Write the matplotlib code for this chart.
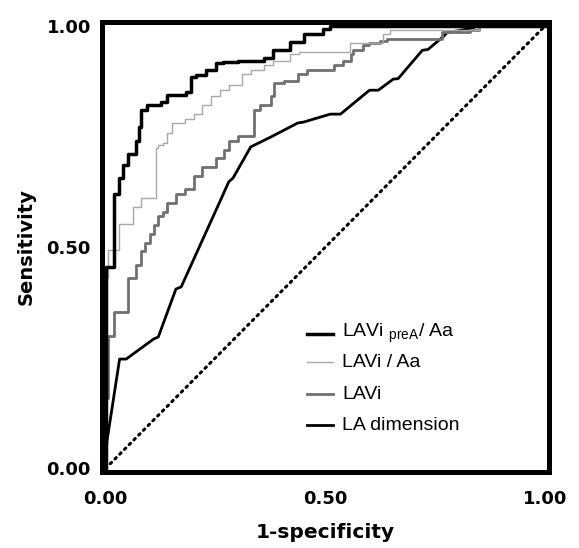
import matplotlib
matplotlib.use("Agg")
import matplotlib.pyplot as plt

# ---- data ----
prea_fpr = [0, 0, 0.02, 0.03, 0.04, 0.052, 0.07, 0.075, 0.08, 0.095, 0.127, 0.14, 0.183, 0.195,
            0.206, 0.228, 0.25, 0.267, 0.30, 0.36, 0.38, 0.42, 0.45, 0.495, 0.51, 1.0]
prea_tpr = [0, 0.455, 0.62, 0.656, 0.685, 0.71, 0.74, 0.77, 0.81, 0.82, 0.827, 0.843, 0.85, 0.883,
            0.888, 0.90, 0.915, 0.917, 0.92, 0.926, 0.944, 0.962, 0.982, 0.993, 1.0, 1.0]

laviaa_fpr = [0, 0, 0.005, 0.03, 0.063, 0.08, 0.115, 0.12, 0.13, 0.14, 0.15, 0.18, 0.20, 0.22,
              0.24, 0.26, 0.28, 0.31, 0.33, 0.36, 0.38, 0.42, 0.44, 0.556, 0.63, 0.647, 0.85, 1.0]
laviaa_tpr = [0, 0.43, 0.494, 0.551, 0.59, 0.611, 0.724, 0.73, 0.735, 0.757, 0.78, 0.79, 0.80, 0.82,
              0.84, 0.855, 0.865, 0.89, 0.90, 0.91, 0.92, 0.935, 0.94, 0.96, 0.98, 0.99, 1.0, 1.0]

lavi_fpr = [0, 0, 0.005, 0.02, 0.052, 0.07, 0.08, 0.09, 0.10, 0.11, 0.12, 0.13, 0.14, 0.16, 0.18,
            0.20, 0.22, 0.25, 0.27, 0.28, 0.30, 0.337, 0.35, 0.376, 0.382, 0.405, 0.437, 0.459,
            0.52, 0.54, 0.557, 0.563, 0.586, 0.60, 0.624, 0.64, 0.765, 0.828, 0.85, 1.0]
lavi_tpr = [0, 0.16, 0.30, 0.353, 0.43, 0.46, 0.49, 0.51, 0.53, 0.55, 0.57, 0.58, 0.60, 0.62, 0.63,
            0.66, 0.68, 0.70, 0.72, 0.74, 0.75, 0.81, 0.82, 0.84, 0.87, 0.875, 0.89, 0.90,
            0.91, 0.92, 0.935, 0.945, 0.955, 0.96, 0.965, 0.97, 0.985, 0.99, 1.0, 1.0]

ladim_fpr = [0, 0.003, 0.032, 0.047, 0.109, 0.12, 0.16, 0.172, 0.262, 0.28, 0.29, 0.33, 0.375,
             0.437, 0.45, 0.511, 0.534, 0.60, 0.62, 0.654, 0.665, 0.72, 0.733, 0.77, 0.776,
             0.828, 0.85, 1.0]
ladim_tpr = [0, 0.06, 0.247, 0.247, 0.292, 0.297, 0.405, 0.41, 0.607, 0.647, 0.656, 0.726, 0.748,
             0.78, 0.782, 0.80, 0.80, 0.854, 0.854, 0.879, 0.88, 0.944, 0.946, 0.977, 0.984,
             0.993, 1.0, 1.0]

ref_line = [0, 1]
ticks = [0.0, 0.5, 1.0]
tick_labels = ["0.00", "0.50", "1.00"]
labels = ["LAVi $_{\\mathregular{preA}}$/ Aa", "LAVi / Aa", "LAVi", "LA dimension"]

# ---- figure ----
plt.rcParams['mathtext.default'] = 'regular'
fig = plt.figure(figsize=(5.79, 5.48), dpi=100)
ax = fig.add_axes([102/579, 76/548, 447/579, 450/548])

ax.plot(ref_line, ref_line, color='black', lw=2.2, linestyle=(0, (0.6, 1.6)),
        dash_capstyle='round', zorder=1)
ax.plot(ladim_fpr, ladim_tpr, color='black', lw=2.0, zorder=2)
ax.plot(lavi_fpr, lavi_tpr, color='#707070', lw=2.0, drawstyle='steps-post', zorder=3)
ax.plot(laviaa_fpr, laviaa_tpr, color='#a8a8a8', lw=1.0, drawstyle='steps-post', zorder=4)
ax.plot(prea_fpr, prea_tpr, color='black', lw=2.5, drawstyle='steps-post', zorder=5)

ax.set_xlim(-0.008, 1.008)
ax.set_ylim(-0.008, 1.008)
for s in ax.spines.values():
    s.set_linewidth(3.6)
    s.set_color('black')
    s.set_zorder(10)

ax.set_xticks(ticks)
ax.set_yticks(ticks)
ax.set_xticklabels(tick_labels, fontsize=13, fontweight='bold', family='DejaVu Sans')
ax.set_yticklabels(tick_labels, fontsize=13, fontweight='bold', family='DejaVu Sans')
ax.tick_params(axis='both', length=0)
ax.tick_params(axis='x', pad=13)
ax.tick_params(axis='y', pad=8)

ax.set_xlabel("1-specificity", fontsize=14.5, fontweight='bold', family='DejaVu Sans', labelpad=11)
ax.set_ylabel("Sensitivity", fontsize=14, fontweight='bold', family='DejaVu Sans', labelpad=8)

# legend (manual placement in axes fraction)
styles = [dict(color='black', lw=2.5), dict(color='#a8a8a8', lw=1.0),
          dict(color='#707070', lw=2.0), dict(color='black', lw=2.0)]
rows = [0.307, 0.244, 0.173, 0.104]
for lab, st, yr in zip(labels, styles, rows):
    ax.plot([0.459, 0.517], [yr, yr], transform=ax.transAxes, **st)
    ax.text(0.537, yr, lab, transform=ax.transAxes, fontsize=14, family='Liberation Sans',
            va='center', ha='left')

fig.savefig("out.png", dpi=100, facecolor='white')
